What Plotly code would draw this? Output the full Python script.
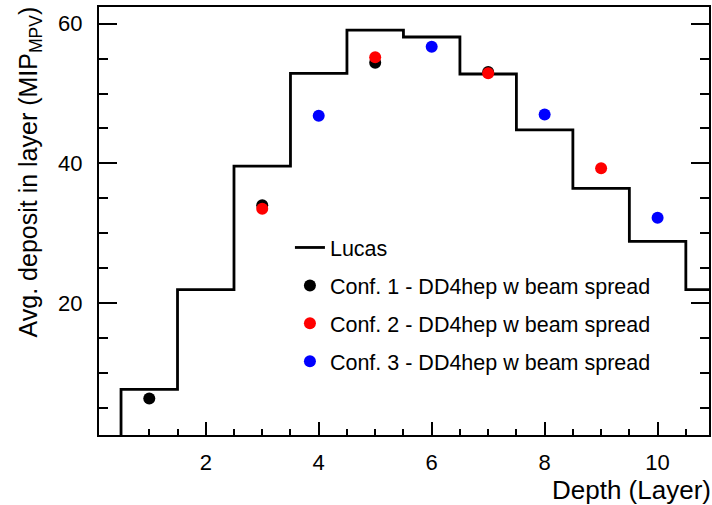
import plotly.graph_objects as go

# ---- data ----
layers = [1, 2, 3, 4, 5, 6, 7, 8, 9, 10, 11]
lucas = [7.6, 21.9, 39.6, 52.9, 59.1, 58.1, 52.8, 44.8, 36.4, 28.8, 21.9]

conf1_x = [1, 3, 5, 7]
conf1_y = [6.3, 34.0, 54.4, 53.1]
conf2_x = [3, 5, 7, 9]
conf2_y = [33.5, 55.2, 52.9, 39.3]
conf3_x = [4, 6, 8, 10]
conf3_y = [46.8, 56.7, 47.0, 32.2]

names = ["Lucas",
         "Conf. 1 - DD4hep w beam spread",
         "Conf. 2 - DD4hep w beam spread",
         "Conf. 3 - DD4hep w beam spread"]

# histogram outline from bin edges
edges = [l - 0.5 for l in layers] + [layers[-1] + 0.5]
step_x = [edges[0]] + edges
step_y = [0] + lucas + [lucas[-1]]

FONT = "Liberation Sans, Arial, Helvetica, sans-serif"

fig = go.Figure()
fig.add_trace(go.Scatter(x=step_x, y=step_y, mode="lines", line_shape="hv",
                         line=dict(color="black", width=2.8), name=names[0],
                         legendgroup="a"))
for xs, ys, col, nm, g in [(conf1_x, conf1_y, "black", names[1], "b"),
                           (conf2_x, conf2_y, "#ff0000", names[2], "c"),
                           (conf3_x, conf3_y, "#0000ff", names[3], "d")]:
    fig.add_trace(go.Scatter(x=xs, y=ys, mode="markers", name=nm, legendgroup=g,
                             marker=dict(color=col, size=12, line=dict(width=0))))

axis_common = dict(showgrid=False, zeroline=False, showline=True, linecolor="black",
                   linewidth=2, ticks="inside", tickcolor="black", tickwidth=1.5,
                   tickfont=dict(family=FONT, size=22, color="black"))

fig.update_xaxes(range=[0.11, 10.91], tick0=0, dtick=2, ticklen=13, mirror=True,
                 ticklabelstandoff=7,
                 minor=dict(dtick=0.5, ticks="inside", ticklen=6.5, tickcolor="black",
                            tickwidth=1.5),
                 **axis_common)
fig.update_yaxes(range=[1.06, 62.4], tick0=0, dtick=20, ticklen=18, mirror="ticks",
                 ticklabelstandoff=10,
                 minor=dict(dtick=5, ticks="inside", ticklen=9, tickcolor="black",
                            tickwidth=1.5),
                 **axis_common)

fig.add_annotation(text="Avg. deposit in layer (MIP<sub>MPV</sub>)", textangle=-90,
                   xref="paper", yref="paper", x=-0.113, y=1.005,
                   xanchor="center", yanchor="top", showarrow=False,
                   font=dict(family=FONT, size=25, color="black"))
fig.add_annotation(text="Depth (Layer)", xref="paper", yref="paper", x=1.006, y=-0.128,
                   xanchor="right", yanchor="middle", showarrow=False,
                   font=dict(family=FONT, size=26, color="black"))

fig.update_layout(
    width=712, height=505,
    margin=dict(l=99, r=1, t=7, b=70),
    paper_bgcolor="white", plot_bgcolor="white",
    showlegend=True,
    legend=dict(x=0.313, y=0.486, xanchor="left", yanchor="top",
                bgcolor="rgba(0,0,0,0)", tracegroupgap=7,
                font=dict(family=FONT, size=21.5, color="black")),
)

fig.write_html("out.html")
